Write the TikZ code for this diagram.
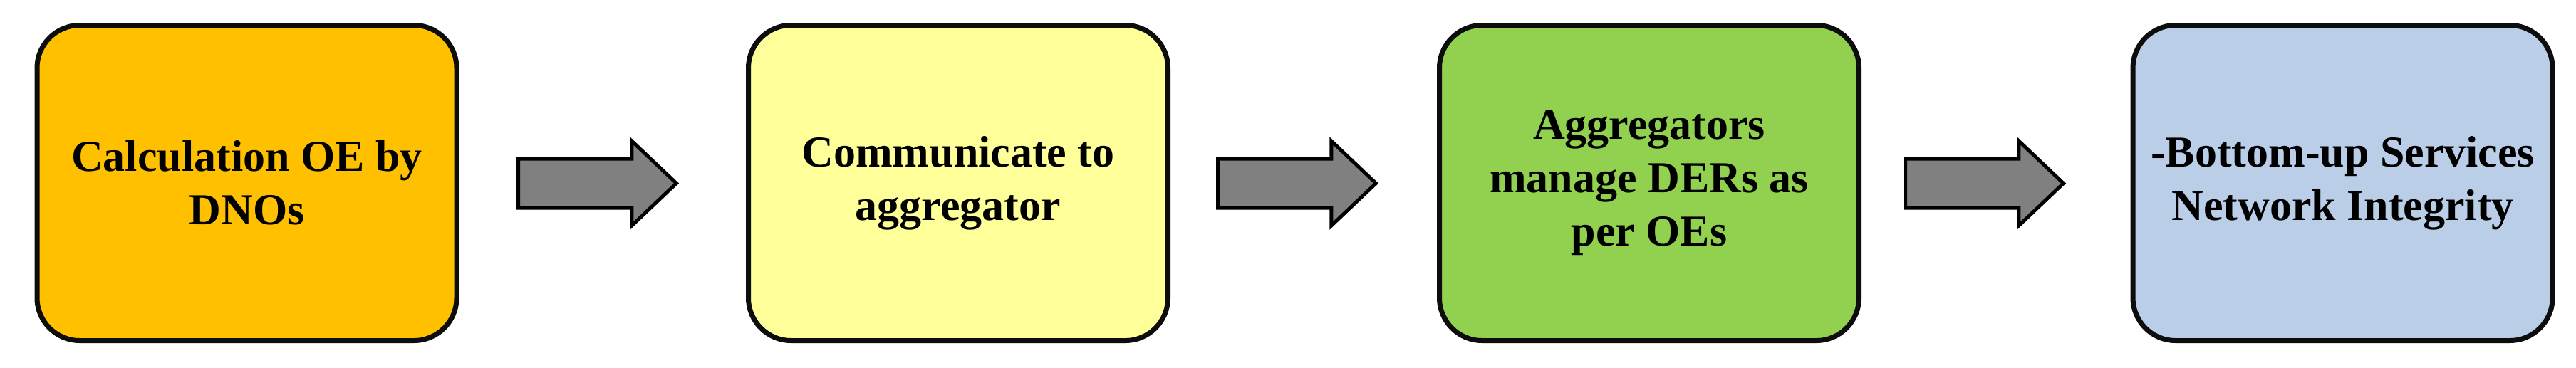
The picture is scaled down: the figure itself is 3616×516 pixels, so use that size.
\documentclass[tikz,border=0pt]{standalone}
\usepackage{fontspec}
\setmainfont{Liberation Serif}
\usetikzlibrary{shapes.arrows}

\definecolor{dnoorange}{HTML}{FFC000}
\definecolor{commyellow}{HTML}{FFFF99}
\definecolor{aggrgreen}{HTML}{92D050}
\definecolor{servblue}{HTML}{BACEE7}
\definecolor{arrowgrey}{HTML}{808080}

\tikzset{
  stage/.style={draw=black!95, line width=1.75pt, rounded corners=15pt,
    minimum width=147.25pt, minimum height=110.75pt, align=center,
    font=\bfseries\fontsize{15.5}{18.75}\selectfont},
  flowarrow/.style={single arrow, draw=black, fill=arrowgrey, line width=1.25pt,
    minimum height=55.5pt, minimum width=28.5pt, single arrow head extend=6.25pt,
    single arrow tip angle=87, inner xsep=0pt, inner ysep=8pt, anchor=tail}
}

\begin{document}
\begin{tikzpicture}[x=0.25pt, y=-0.25pt]
      \useasboundingbox (0,0) rectangle (3616,516);
      \draw
        (346.5,257) node[stage, fill=dnoorange] (calc){Calculation OE by\\DNOs}
        (1345,257) node[stage, fill=commyellow] (comm){Communicate to\\aggregator}
        (2315,257) node[stage, fill=aggrgreen] (aggr){Aggregators\\manage DERs as\\per OEs}
        (3288.5,257) node[stage, fill=servblue] (serv){-Bottom-up Services\\Network Integrity};
      \begin{scope}[every node/.style={flowarrow}]
        \node (calc-comm) at (725,257.5) {};
        \node (comm-aggr) at (1707,257.5) {};
        \node (aggr-serv) at (2672,257.5) {};
      \end{scope}
    \end{tikzpicture}
\end{document}
